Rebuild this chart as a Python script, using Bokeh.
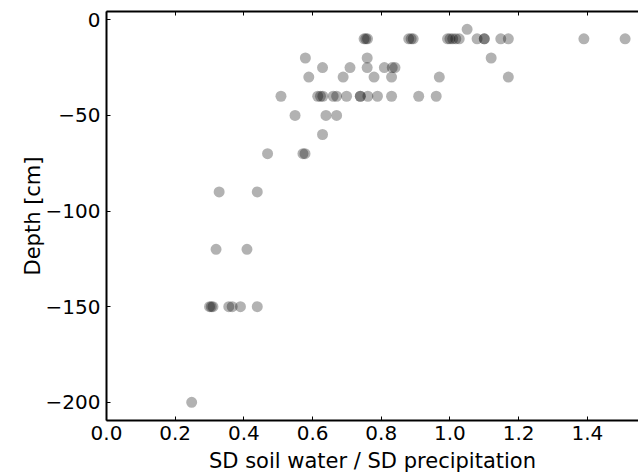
from bokeh.plotting import figure
from bokeh.models import ColumnDataSource, Range1d, LinearAxis, FixedTicker
from bokeh.embed import file_html
from bokeh.resources import INLINE

# data: ratio of SD soil water / SD precipitation, per depth (cm)
d5_x = [1.05]
d10_x = [0.75, 0.755, 0.76, 0.88, 0.887, 0.893, 0.993, 1.0, 1.008, 1.017, 1.027,
         1.079, 1.10, 1.10, 1.148, 1.17, 1.39, 1.51]
d20_x = [0.579, 0.759, 1.12]
d25_x = [0.629, 0.709, 0.759, 0.809, 0.832, 0.840]
d30_x = [0.589, 0.689, 0.779, 0.830, 0.969, 1.170]
d40_x = [0.508, 0.615, 0.623, 0.630, 0.660, 0.670, 0.699, 0.739, 0.739, 0.761,
         0.789, 0.830, 0.909, 0.960]
d50_x = [0.549, 0.639, 0.670]
d60_x = [0.629]
d70_x = [0.469, 0.572, 0.578]
d90_x = [0.328, 0.439]
d120_x = [0.319, 0.409]
d150_x = [0.300, 0.305, 0.310, 0.356, 0.366, 0.390, 0.439]
d200_x = [0.248]

depth_groups = [(-5, d5_x), (-10, d10_x), (-20, d20_x), (-25, d25_x), (-30, d30_x),
                (-40, d40_x), (-50, d50_x), (-60, d60_x), (-70, d70_x), (-90, d90_x),
                (-120, d120_x), (-150, d150_x), (-200, d200_x)]

x_ticks = [0.0, 0.2, 0.4, 0.6, 0.8, 1.0, 1.2, 1.4]
x_tick_labels = ["0.0", "0.2", "0.4", "0.6", "0.8", "1.0", "1.2", "1.4"]
y_ticks = [0, -50, -100, -150, -200]
y_tick_labels = ["0", "\u221250", "\u2212100", "\u2212150", "\u2212200"]

xs, ys = [], []
for d, vals in depth_groups:
    for v in vals:
        xs.append(v)
        ys.append(d)
src = ColumnDataSource(dict(x=xs, y=ys))

FONT = "DejaVu Sans"
TICK_FS = "20px"
LABEL_FS = "21px"

p = figure(width=638, height=476, output_backend="svg", toolbar_location=None,
           x_range=Range1d(0, 1.549), y_range=Range1d(-209.5, 4.3),
           min_border_left=106, min_border_right=0, min_border_top=11,
           min_border_bottom=56)
p.outline_line_color = None
p.grid.visible = False
p.background_fill_color = "white"
p.border_fill_color = "white"

p.scatter("x", "y", source=src, size=11, fill_color="black", fill_alpha=0.3,
          line_color=None)

for ax in [p.xaxis[0], p.yaxis[0]]:
    ax.axis_line_width = 2
    ax.axis_line_color = "black"
    ax.major_tick_in = 4
    ax.major_tick_out = 0
    ax.major_tick_line_width = 1
    ax.minor_tick_line_color = None
    ax.major_label_text_font = FONT
    ax.major_label_text_font_size = TICK_FS
    ax.major_label_text_color = "black"
    ax.axis_label_text_font = FONT
    ax.axis_label_text_font_size = LABEL_FS
    ax.axis_label_text_font_style = "normal"
    ax.axis_label_text_color = "black"

p.xaxis.ticker = FixedTicker(ticks=x_ticks)
p.xaxis.major_label_overrides = dict(zip(x_ticks, x_tick_labels))
p.xaxis.axis_label = "SD soil water / SD precipitation"
p.xaxis.major_label_standoff = 5
p.xaxis.axis_label_standoff = 6

p.yaxis.ticker = FixedTicker(ticks=y_ticks)
p.yaxis.major_label_overrides = dict(zip(y_ticks, y_tick_labels))
p.yaxis.axis_label = "Depth [cm]"
p.yaxis.major_label_standoff = 6
p.yaxis.axis_label_standoff = -2

top = LinearAxis(ticker=FixedTicker(ticks=x_ticks), axis_line_width=2,
                 major_tick_in=4, major_tick_out=0, minor_tick_line_color=None,
                 major_label_standoff=0, axis_label=None,
                 major_label_overrides={t: "" for t in x_ticks})
p.add_layout(top, "above")

open("out.html", "w").write(file_html(p, INLINE))
